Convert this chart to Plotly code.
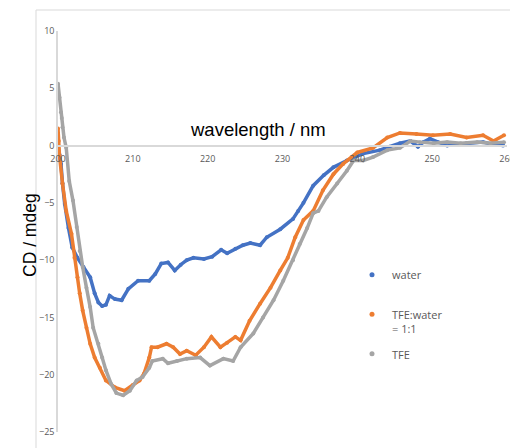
import plotly.graph_objects as go

# ---- data ----
wl_water = [200.0, 200.2, 200.4, 200.6, 200.9, 201.4, 201.9, 202.6, 203.4, 204.3, 204.9, 205.4, 205.9, 206.4,
            206.9, 207.6, 208.5, 209.4, 210.7, 212.2, 213.0, 213.8, 214.7, 215.6, 216.4, 217.2, 218.1, 219.5,
            220.6, 221.8, 222.6, 223.7, 224.7, 225.7, 227.0, 227.9, 229.7, 231.4, 232.1, 232.8, 234.1, 235.5,
            236.8, 238.6, 240.8, 243.0, 244.3, 245.7, 247.1, 248.1, 248.8, 249.7, 250.8, 252.0, 253.2, 254.6,
            256.8, 258.1, 259.5]
cd_water = [0.0, -0.8, -1.6, -3.3, -5.1, -7.2, -8.9, -9.8, -10.6, -11.5, -12.9, -13.7, -14.0, -13.9,
            -13.1, -13.4, -13.5, -12.5, -11.8, -11.8, -11.2, -10.3, -10.2, -10.9, -10.4, -10.0, -9.8, -9.9,
            -9.7, -9.1, -9.4, -9.0, -8.7, -8.5, -8.7, -8.0, -7.3, -6.4, -5.7, -5.0, -3.5, -2.6,
            -1.9, -1.3, -0.7, -0.4, -0.1, 0.2, 0.4, -0.1, 0.3, 0.6, 0.3, 0.0, 0.1, 0.2,
            0.3, 0.1, 0.0]

wl_mix = [200.0, 200.1, 200.2, 200.6, 201.1, 201.8, 202.2, 202.6, 202.9, 203.3, 203.8, 204.3, 204.9, 205.6,
          206.4, 207.6, 208.9, 210.0, 210.9, 211.5, 212.2, 212.5, 213.3, 214.5, 215.4, 216.3, 217.2, 218.4,
          219.5, 220.5, 221.7, 222.6, 223.7, 224.4, 225.6, 227.0, 228.4, 229.7, 230.7, 231.7, 232.8, 234.1,
          235.4, 236.8, 238.1, 240.0, 242.1, 244.0, 245.7, 247.9, 250.1, 252.4, 254.6, 256.8, 258.2, 259.6]
cd_mix = [1.5, 0.4, -0.9, -3.3, -5.7, -7.7, -9.8, -11.5, -12.9, -14.4, -15.9, -17.3, -18.5, -19.4,
          -20.5, -21.1, -21.4, -20.9, -20.5, -19.9, -18.5, -17.6, -17.6, -17.3, -17.6, -18.2, -17.9, -18.3,
          -17.6, -16.7, -17.6, -17.2, -16.7, -17.0, -15.3, -13.8, -12.4, -10.9, -9.8, -8.0, -6.5, -5.7,
          -3.9, -2.5, -1.6, -0.6, -0.2, 0.7, 1.1, 1.0, 0.9, 1.0, 0.7, 0.9, 0.4, 0.9]

wl_tfe = [200.0, 200.2, 200.4, 200.5, 200.6, 200.8, 201.1, 201.5, 202.0, 202.5, 202.9, 203.3, 203.8, 204.3,
          204.7, 205.4, 205.9, 206.4, 207.1, 207.8, 208.7, 209.6, 210.5, 211.3, 212.2, 212.6, 214.0, 214.7,
          215.9, 217.2, 219.0, 220.3, 222.1, 223.4, 224.4, 226.1, 227.4, 228.8, 230.1, 231.4, 232.3, 233.3,
          234.1, 234.8, 235.9, 237.3, 238.6, 239.5, 240.8, 242.1, 244.0, 245.7, 247.1, 248.4, 250.2, 252.0,
          253.8, 256.0, 257.8, 259.6]
cd_tfe = [5.4, 4.2, 2.9, 2.4, 1.6, 0.7, -0.2, -3.1, -4.8, -7.1, -9.2, -10.6, -12.4, -14.1,
          -15.9, -17.3, -18.5, -19.6, -20.8, -21.6, -21.8, -21.4, -20.5, -20.2, -19.4, -18.8, -18.6, -19.0,
          -18.8, -18.6, -18.5, -19.2, -18.6, -18.8, -17.6, -16.4, -15.0, -13.5, -11.8, -10.0, -8.6, -7.2,
          -5.9, -5.7, -4.5, -3.3, -2.2, -1.3, -1.3, -1.0, -0.4, -0.2, 0.4, 0.3, 0.2, 0.3,
          0.2, 0.3, 0.2, 0.3]

series_names = ["water<br> ", "TFE:water<br>= 1:1", "TFE"]
series_colors = ["#4472C4", "#ED7D31", "#A5A5A5"]
x_ticks = [200, 210, 220, 230, 240, 250, 260]
y_ticks = [-25, -20, -15, -10, -5, 0, 5, 10]

W, H = 510, 448
ML, MR, MT, MB = 58, 3, 31, 16
PW, PH = W - ML - MR, H - MT - MB


def px(x):
    return (x - ML) / PW


def py(y):
    return (H - MB - y) / PH


fig = go.Figure()
data = [(wl_water, cd_water), (wl_mix, cd_mix), (wl_tfe, cd_tfe)]
for (xs, ys), name, col in zip(data, series_names, series_colors):
    fig.add_trace(go.Scatter(x=xs, y=ys, mode="lines+markers", name=name,
                             line=dict(color=col, width=3.5), marker=dict(color=col, size=4),
                             showlegend=False))
for i, (name, col) in enumerate(zip(series_names, series_colors)):
    fig.add_trace(go.Scatter(x=[None], y=[None], mode="markers", name=name,
                             marker=dict(color=col, size=5), legendgroup=f"g{i}"))

tick_font = dict(family="Open Sans, Liberation Sans, sans-serif", size=9, color="#595959")
fig.update_layout(
    width=W, height=H,
    margin=dict(l=ML, r=MR, t=MT, b=MB),
    paper_bgcolor="white", plot_bgcolor="white",
    xaxis=dict(range=[200, 260], tickvals=x_ticks, anchor="free", position=25 / 35,
               showline=True, linecolor="#d9d9d9", linewidth=1.5, showgrid=False, zeroline=False,
               ticks="", ticklabelstandoff=5, ticklabeloverflow="allow", automargin=False,
               tickfont=tick_font),
    yaxis=dict(range=[-25, 10], tickvals=y_ticks, showline=True, linecolor="#d9d9d9", linewidth=1.5,
               showgrid=False, zeroline=False, ticks="", automargin=False, tickfont=tick_font),
    legend=dict(x=px(352), y=py(261), xanchor="left", yanchor="top", valign="top",
                tracegroupgap=8, font=dict(family="Open Sans, Liberation Sans, sans-serif", size=11,
                                           color="#595959"),
                bgcolor="rgba(0,0,0,0)", itemwidth=30),
    showlegend=True,
    shapes=[dict(type="rect", xref="paper", yref="paper", x0=px(36), x1=1.2,
                 y0=-0.2, y1=py(10), line=dict(color="#d9d9d9", width=1), layer="below")],
    annotations=[
        dict(text="wavelength / nm", xref="paper", yref="paper", x=px(258), y=py(128),
             showarrow=False, yshift=11,
             font=dict(family="Liberation Sans, Arial, sans-serif", size=18.5, color="black")),
        dict(text="CD / mdeg", xref="paper", yref="paper", x=px(18), y=py(235),
             showarrow=False, textangle=-90,
             font=dict(family="Liberation Sans, Arial, sans-serif", size=17.5, color="black")),
    ],
)
fig.write_html("out.html")
